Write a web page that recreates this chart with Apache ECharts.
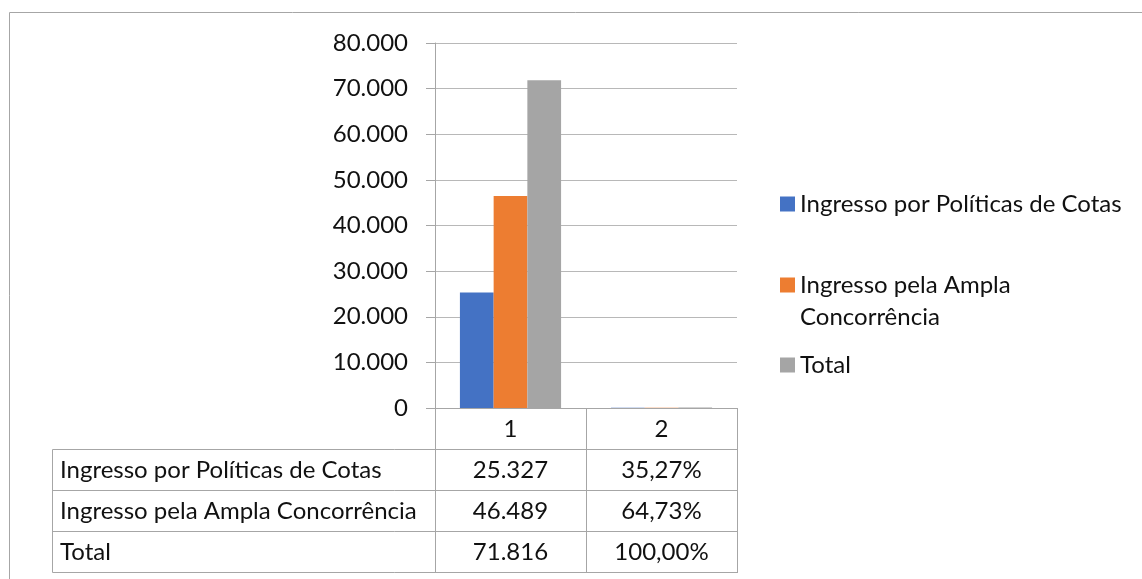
<!DOCTYPE html>
<html><head><meta charset="utf-8">
<script src="https://cdn.jsdelivr.net/npm/echarts@6/dist/echarts.min.js"></script>
<style>html,body{margin:0;padding:0;background:#fff}#c{width:1142px;height:579px}</style>
</head><body><div id="c"></div>
<script>
// ---- data ----
const categories = ['1', '2'];
const seriesNames = ['Ingresso por Políticas de Cotas', 'Ingresso pela Ampla Concorrência', 'Total'];
const cotas = [25327, 35.27];   // col 1: count, col 2: percent
const ampla = [46489, 64.73];
const total = [71816, 100.00];
const yMin = 0, yMax = 80000, yStep = 10000;

// ---- style ----
const FONT = 'Lato';
const FS = 24;
const TXT = '#111';
const LINE = '#a6a6a6';
const GRID = '#b8b8b8';
const colors = ['#4472C4', '#ED7D31', '#A5A5A5'];

function fmtInt(v) { return String(Math.round(v)).replace(/\B(?=(\d{3})+(?!\d))/g, '.'); }
function fmtPct(v) { return v.toFixed(2).replace('.', ',') + '%'; }

const chart = echarts.init(document.getElementById('c'), null, { renderer: 'canvas' });
const seriesData = [cotas, ampla, total];

const legendTops = [192, 237, 353];
chart.setOption({
  animation: false,
  color: colors,
  grid: { left: 435, right: 405, top: 43, bottom: 171, containLabel: false },
  xAxis: {
    type: 'category', data: categories,
    axisLine: { show: true, lineStyle: { color: LINE, width: 1 } },
    axisTick: { show: true, length: 165, lineStyle: { color: LINE, width: 1 } },
    axisLabel: { show: true, margin: 21, verticalAlign: 'middle', fontFamily: FONT, fontSize: FS, color: TXT }
  },
  yAxis: {
    type: 'value', min: yMin, max: yMax, interval: yStep,
    axisLine: { show: true, lineStyle: { color: LINE, width: 1 } },
    axisTick: { show: true, length: 9, lineStyle: { color: LINE, width: 1 } },
    axisLabel: { margin: 27, fontFamily: FONT, fontSize: FS, color: TXT, formatter: v => fmtInt(v) },
    splitLine: { show: true, lineStyle: { color: GRID, width: 1 } }
  },
  legend: seriesNames.map((n, i) => ({
    data: [n], orient: 'vertical', left: 780, top: legendTops[i], padding: 0,
    itemWidth: 15, itemHeight: 15, icon: 'rect', selectedMode: false,
    formatter: name => name === seriesNames[1] ? '\nIngresso pela Ampla\nConcorrência' : name,
    textStyle: i === 1
      ? { fontFamily: FONT, fontSize: FS, color: TXT, lineHeight: 32 }
      : { fontFamily: FONT, fontSize: FS, color: TXT }
  })),
  series: seriesNames.map((n, i) => ({
    name: n, type: 'bar', data: seriesData[i],
    barGap: '0%', barCategoryGap: '33%',
    itemStyle: { color: colors[i] }
  }))
});

// ---- data table (below the axis), positioned from the category axis ----
const rowY = [449.5, 490.5, 531.5, 572.5];
const tableLeft = 52.5;
const x0 = chart.convertToPixel({ xAxisIndex: 0 }, categories[0]);
const x1 = chart.convertToPixel({ xAxisIndex: 0 }, categories[1]);
const colRight = x1 + (x1 - x0) / 2;

const g = [];
// outer chart frame (top + left visible)
g.push({ type: 'line', shape: { x1: 9.5, y1: 12.5, x2: 1142, y2: 12.5 }, style: { stroke: LINE, lineWidth: 1 } });
g.push({ type: 'line', shape: { x1: 9.5, y1: 12.5, x2: 9.5, y2: 579 }, style: { stroke: LINE, lineWidth: 1 } });
// table horizontal lines
rowY.forEach(y => g.push({ type: 'line', shape: { x1: tableLeft, y1: y, x2: colRight, y2: y }, style: { stroke: LINE, lineWidth: 1 } }));
// table left edge
g.push({ type: 'line', shape: { x1: tableLeft, y1: rowY[0], x2: tableLeft, y2: rowY[3] }, style: { stroke: LINE, lineWidth: 1 } });
// cells
seriesNames.forEach((n, r) => {
  const cy = (rowY[r] + rowY[r + 1]) / 2;
  g.push({ type: 'text', x: 60, y: cy, style: { text: n, font: FS + 'px ' + FONT, fill: TXT, verticalAlign: 'middle', align: 'left' } });
  g.push({ type: 'text', x: x0, y: cy, style: { text: fmtInt(seriesData[r][0]), font: FS + 'px ' + FONT, fill: TXT, verticalAlign: 'middle', align: 'center' } });
  g.push({ type: 'text', x: x1, y: cy, style: { text: fmtPct(seriesData[r][1]), font: FS + 'px ' + FONT, fill: TXT, verticalAlign: 'middle', align: 'center' } });
});
chart.setOption({ graphic: g });
</script></body></html>
